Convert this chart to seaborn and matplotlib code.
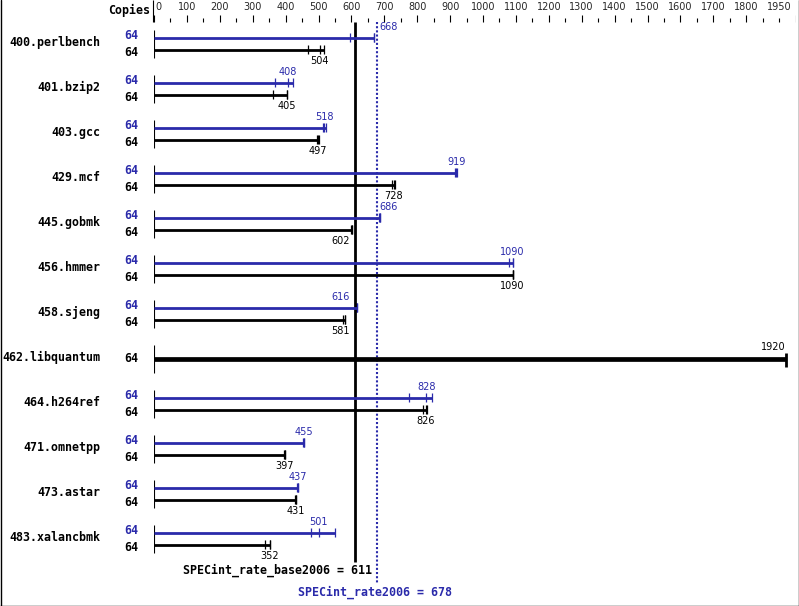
import numpy as np
import pandas as pd
import matplotlib
matplotlib.use("Agg")
import matplotlib.pyplot as plt
from matplotlib.lines import Line2D
import seaborn as sns

# ---- data (SPECint_rate2006, 64 copies) ----
benchmarks = ['400.perlbench', '401.bzip2', '403.gcc', '429.mcf', '445.gobmk',
              '456.hmmer', '458.sjeng', '462.libquantum', '464.h264ref',
              '471.omnetpp', '473.astar', '483.xalancbmk']
copies_base = [64, 64, 64, 64, 64, 64, 64, 64, 64, 64, 64, 64]
copies_peak = [64, 64, 64, 64, 64, 64, 64, None, 64, 64, 64, 64]
# three runs each, median is the reported value
base_runs = [[469, 504, 518], [363, 405, 405], [495, 497, 501], [723, 728, 733],
             [600, 602, 602], [1090, 1090, 1091], [575, 581, 582], [1920, 1920, 1920],
             [818, 826, 829], [395, 397, 397], [429, 431, 431], [337, 352, 352]]
# None -> peak same as base (drawn once)
peak_runs = [[596, 668, 669], [368, 408, 422], [514, 518, 523], [915, 919, 920],
             [684, 686, 687], [1078, 1090, 1091], [615, 616, 616], None,
             [776, 828, 846], [454, 455, 455], [435, 437, 437], [476, 501, 550]]
base_mean = 611
peak_mean = 678
major_ticks = [0, 100, 200, 300, 400, 500, 600, 700, 800, 900, 1000, 1100, 1200,
               1300, 1400, 1500, 1600, 1700, 1800, 1950]
minor_ticks = [50, 150, 250, 350, 450, 550, 650, 750, 850, 950, 1050, 1150, 1250,
               1350, 1450, 1550, 1650, 1750, 1850, 1900]

# ---- layout (pixels) ----
W, H = 799, 606
X0 = 154          # pixel of value 0
PXU = 0.329       # pixels per unit
XMAX = 1950
ROW0, ROWGAP, HALF = 43.5, 45, 6
BLUE = '#2a2aaa'

def xv(px):
    return (px - X0) / PXU

sns.set_style('white')
plt.rcParams['font.family'] = ['DejaVu Sans']
mono = dict(family='DejaVu Sans Mono', weight='bold', fontsize=8.4)
small = dict(family='DejaVu Sans', fontsize=7)

fig = plt.figure(figsize=(W / 100, H / 100), dpi=100)
ax = fig.add_axes([X0 / W, 0, XMAX * PXU / W, 1])
ax.set_xlim(0, XMAX)
ax.set_ylim(H, 0)
ax.set_axis_off()

# header + scale
ax.text(xv(150), 10, 'Copies', ha='right', va='center', color='black', clip_on=False, **mono)
ax.vlines(xv(153), 0, 22, color='black', lw=0.8, clip_on=False)
ax.vlines(major_ticks, 15, 22, color='black', lw=0.8)
ax.vlines(minor_ticks, 18, 22, color='black', lw=0.8)
for t in major_ticks:
    if t == 0:
        ax.text(xv(X0 + 1.5), 7, str(t), ha='left', va='center', **small)
    elif t == XMAX:
        ax.text(xv(792), 7, str(t), ha='right', va='center', clip_on=False, **small)
    else:
        ax.text(t, 7, str(t), ha='center', va='center', **small)

# mean lines
ax.vlines(base_mean, 22, 562, color='black', lw=2.0)
ax.vlines(peak_mean, 22, 583, color=BLUE, lw=1.5, linestyles=(0, (1, 1)))
ax.text(xv(372), 570, 'SPECint_rate_base2006 = %d' % base_mean, ha='right', va='center',
        color='black', **mono)
ax.text(xv(375), 592, 'SPECint_rate2006 = %d' % peak_mean, ha='center', va='center',
        color=BLUE, **mono)

solid_px = X0 + base_mean * PXU
dot_px = X0 + peak_mean * PXU

def label_x(val, text):
    c = X0 + val * PXU
    w = len(text) * 6.0
    lo, hi = c - w / 2, c + w / 2
    if lo - 2 < solid_px < hi + 2:
        return xv(solid_px - 5), 'right'
    if lo - 2 < dot_px < hi + 2:
        return xv(dot_px + 2), 'left'
    return val, 'center'

# long-form table of runs for the tick marks
rows = []
for i, name in enumerate(benchmarks):
    mid = ROW0 + i * ROWGAP
    if peak_runs[i] is None:
        for v in base_runs[i]:
            rows.append((name, 'both', mid, v))
    else:
        for v in peak_runs[i]:
            rows.append((name, 'peak', mid - HALF, v))
        for v in base_runs[i]:
            rows.append((name, 'base', mid + HALF, v))
runs = pd.DataFrame(rows, columns=['benchmark', 'kind', 'y', 'value'])

for i, name in enumerate(benchmarks):
    mid = ROW0 + i * ROWGAP
    ax.text(xv(100), mid - 0.8, name, ha='right', va='center', color='black', clip_on=False, **mono)
    ax.vlines(0, mid - 14, mid + 14.5, color='black', lw=0.8)
    b = base_runs[i]
    bmed = int(np.median(b))
    if peak_runs[i] is None:
        ax.text(xv(138), mid, str(copies_base[i]), ha='right', va='center', color='black',
                clip_on=False, **mono)
        ax.hlines(mid, 0, max(b), color='black', lw=3.4)
        ax.vlines(max(b), mid - 6, mid + 8, color='black', lw=2)
        ax.text(bmed, mid - 11.5, str(bmed), ha='right', va='center', color='black', **small)
        continue
    p = peak_runs[i]
    pmed = int(np.median(p))
    ax.text(xv(138), mid - HALF - 2, str(copies_peak[i]), ha='right', va='center', color=BLUE,
            clip_on=False, **mono)
    ax.text(xv(138), mid + HALF + 3, str(copies_base[i]), ha='right', va='center', color='black',
            clip_on=False, **mono)
    ax.hlines(mid - HALF, 0, max(p), color=BLUE, lw=2.0)
    ax.hlines(mid + HALF, 0, max(b), color='black', lw=2.0)
    x, ha = label_x(pmed, str(pmed))
    ax.text(x, mid - HALF - 10.5, str(pmed), ha=ha, va='center', color=BLUE, **small)
    x, ha = label_x(bmed, str(bmed))
    ax.text(x, mid + HALF + 11.5, str(bmed), ha=ha, va='center', color='black', **small)

sub = runs[runs['kind'] != 'both']
sns.scatterplot(data=sub, x='value', y='y', hue='kind', palette={'peak': BLUE, 'base': 'black'},
                marker='|', s=40, linewidth=0.9, legend=False, ax=ax)
ax.set_xlim(0, XMAX)
ax.set_ylim(H, 0)
ax.set_axis_off()

# outer frame (left, right, bottom)
for xs, ys in [([0.5, 0.5], [0, H]), ([W - 0.5, W - 0.5], [0, H]), ([0, W], [H - 0.5, H - 0.5])]:
    fig.add_artist(Line2D(np.array(xs) / W, 1 - np.array(ys) / H, color='black', lw=1,
                          transform=fig.transFigure))

fig.savefig('out.png', dpi=100)
